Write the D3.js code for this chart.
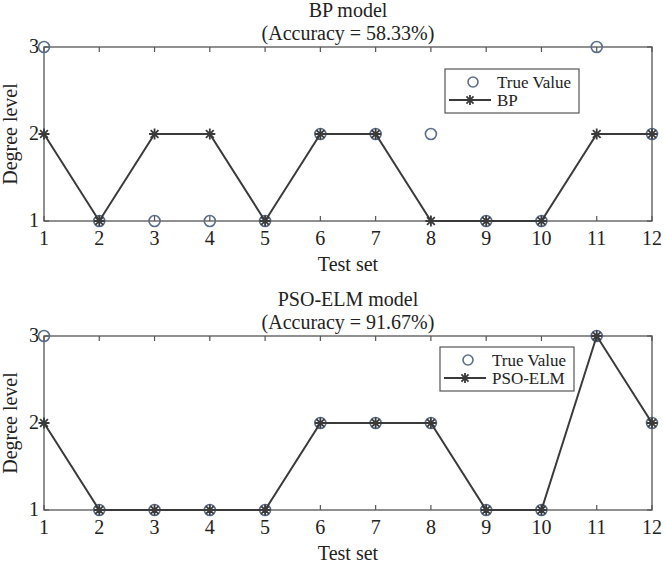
<!DOCTYPE html>
<html>
<head>
<meta charset="utf-8">
<script src="https://cdn.jsdelivr.net/npm/d3@7"></script>
<style>
  body { margin: 0; background: #fff; }
  text { font-family: "Liberation Serif", "Times New Roman", serif; fill: #222; }
</style>
</head>
<body>
<div id="chart"></div>
<script>
// ============================
// Data
// ============================
const testSet = [1, 2, 3, 4, 5, 6, 7, 8, 9, 10, 11, 12];
const trueValue = [3, 1, 1, 1, 1, 2, 2, 2, 1, 1, 3, 2];
const bpPred = [2, 1, 2, 2, 1, 2, 2, 1, 1, 1, 2, 2];
const psoElmPred = [2, 1, 1, 1, 1, 2, 2, 2, 1, 1, 3, 2];
const yTicks = [1, 2, 3];

const width = 665, height = 565;
const svg = d3.select("#chart").append("svg")
  .attr("width", width).attr("height", height);

const axisColor = "#555";
const lineColor = "#3a3a3a";
const circleColor = "#5b6d8c";
const fontSize = 20;
const legendFont = 17;

// MATLAB-ish '*' marker: + and x overlaid
function starPath(s) {
  const d = s * 0.707;
  return `M${-s},0L${s},0M0,${-s}L0,${s}M${-d},${-d}L${d},${d}M${-d},${d}L${d},${-d}`;
}

function drawPanel(cfg) {
  const xscale = d3.scaleLinear().domain([1, 12]).range([44, 652]);
  const yscale = d3.scaleLinear().domain([1, 3]).range([cfg.bottom, cfg.top]);
  const g = svg.append("g");

  // box
  g.append("rect")
    .attr("x", xscale(1)).attr("y", yscale(3))
    .attr("width", xscale(12) - xscale(1)).attr("height", yscale(1) - yscale(3))
    .attr("fill", "none").attr("stroke", axisColor).attr("stroke-width", 1.3);

  // inward ticks on all four sides
  const tickLen = 5;
  const ticks = g.append("g").attr("stroke", axisColor).attr("stroke-width", 1.2);
  testSet.forEach(v => {
    ticks.append("line").attr("x1", xscale(v)).attr("x2", xscale(v))
      .attr("y1", yscale(1)).attr("y2", yscale(1) - tickLen);
    ticks.append("line").attr("x1", xscale(v)).attr("x2", xscale(v))
      .attr("y1", yscale(3)).attr("y2", yscale(3) + tickLen);
  });
  yTicks.forEach(v => {
    ticks.append("line").attr("x1", xscale(1)).attr("x2", xscale(1) + tickLen)
      .attr("y1", yscale(v)).attr("y2", yscale(v));
    ticks.append("line").attr("x1", xscale(12)).attr("x2", xscale(12) - tickLen)
      .attr("y1", yscale(v)).attr("y2", yscale(v));
  });

  // tick labels
  g.append("g").selectAll("text").data(testSet).join("text")
    .attr("x", d => xscale(d)).attr("y", yscale(1) + 24)
    .attr("text-anchor", "middle").attr("font-size", fontSize)
    .text(d => d);
  g.append("g").selectAll("text").data(yTicks).join("text")
    .attr("x", xscale(1) - 5).attr("y", d => yscale(d) + 6)
    .attr("text-anchor", "end").attr("font-size", fontSize)
    .text(d => d);

  // axis labels
  g.append("text")
    .attr("x", (xscale(1) + xscale(12)) / 2).attr("y", yscale(1) + 50)
    .attr("text-anchor", "middle").attr("font-size", fontSize)
    .text("Test set");
  g.append("text")
    .attr("transform", `translate(17,${(yscale(1) + yscale(3)) / 2}) rotate(-90)`)
    .attr("text-anchor", "middle").attr("font-size", fontSize)
    .text("Degree level");

  // titles
  g.append("text")
    .attr("x", (xscale(1) + xscale(12)) / 2).attr("y", yscale(3) - 30)
    .attr("text-anchor", "middle").attr("font-size", fontSize)
    .text(cfg.title);
  g.append("text")
    .attr("x", (xscale(1) + xscale(12)) / 2).attr("y", yscale(3) - 7)
    .attr("text-anchor", "middle").attr("font-size", fontSize)
    .text(cfg.subtitle);

  // true value circles
  g.append("g").selectAll("circle").data(testSet).join("circle")
    .attr("cx", d => xscale(d)).attr("cy", (d, i) => yscale(trueValue[i]))
    .attr("r", 5.5)
    .attr("fill", "none").attr("stroke", circleColor).attr("stroke-width", 1.6);

  // prediction line
  const line = d3.line()
    .x(d => xscale(d))
    .y((d, i) => yscale(cfg.pred[i]));
  g.append("path").datum(testSet)
    .attr("d", line)
    .attr("fill", "none").attr("stroke", lineColor).attr("stroke-width", 2);

  g.append("g").selectAll("path").data(testSet).join("path")
    .attr("transform", (d, i) => `translate(${xscale(d)},${yscale(cfg.pred[i])})`)
    .attr("d", starPath(5.5))
    .attr("fill", "none").attr("stroke", lineColor).attr("stroke-width", 1.8);

  // legend
  const lg = g.append("g").attr("transform", `translate(${cfg.legend[0]},${cfg.legend[1]})`);
  lg.append("rect").attr("width", 134).attr("height", 44)
    .attr("fill", "#fff").attr("stroke", axisColor).attr("stroke-width", 1.2);
  lg.append("circle").attr("cx", 28).attr("cy", 13).attr("r", 5)
    .attr("fill", "none").attr("stroke", circleColor).attr("stroke-width", 1.6);
  lg.append("text").attr("x", 52).attr("y", 19).attr("font-size", legendFont).text("True Value");
  lg.append("line").attr("x1", 4).attr("x2", 46).attr("y1", 31).attr("y2", 31)
    .attr("stroke", lineColor).attr("stroke-width", 2);
  lg.append("path").attr("transform", "translate(25,31)").attr("d", starPath(5))
    .attr("fill", "none").attr("stroke", lineColor).attr("stroke-width", 1.8);
  lg.append("text").attr("x", 52).attr("y", 37).attr("font-size", legendFont).text(cfg.name);
}

drawPanel({
  top: 47, bottom: 221, pred: bpPred, name: "BP",
  title: "BP model", subtitle: "(Accuracy = 58.33%)", legend: [445, 69]
});
drawPanel({
  top: 336, bottom: 510, pred: psoElmPred, name: "PSO-ELM",
  title: "PSO-ELM model", subtitle: "(Accuracy = 91.67%)", legend: [440, 347]
});
</script>
</body>
</html>
